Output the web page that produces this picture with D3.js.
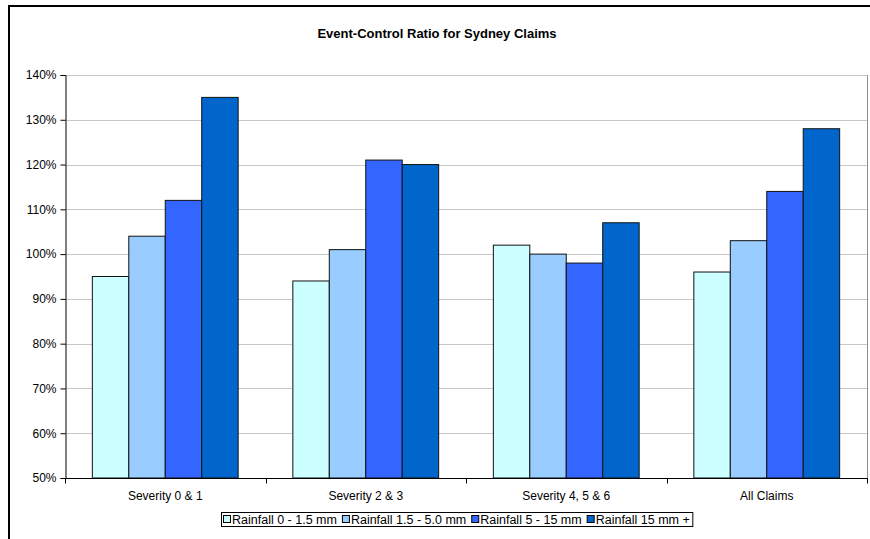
<!DOCTYPE html>
<html>
<head>
<meta charset="utf-8">
<script src="https://cdn.jsdelivr.net/npm/d3@7/dist/d3.min.js"></script>
<style>
  html, body { margin: 0; padding: 0; background: #fff; overflow: hidden; }
  svg { display: block; font-family: Arial, "Liberation Sans", sans-serif; }
</style>
</head>
<body>
<svg id="chart" width="870" height="539"></svg>
<script>
// Chart data
const categories = ["Severity 0 & 1", "Severity 2 & 3", "Severity 4, 5 & 6", "All Claims"];
const seriesNames = ["Rainfall 0 - 1.5 mm", "Rainfall 1.5 - 5.0 mm", "Rainfall 5 - 15 mm", "Rainfall 15 mm +"];
const rain0to15 = [95, 94, 102, 96];
const rain15to50 = [104, 101, 100, 103];
const rain5to15 = [112, 121, 98, 114];
const rain15plus = [135, 120, 107, 128];
const yTicks = [50, 60, 70, 80, 90, 100, 110, 120, 130, 140];
const seriesColors = ["#CCFFFF", "#99CCFF", "#3366FF", "#0066CC"];

const seriesValues = [rain0to15, rain15to50, rain5to15, rain15plus];
const FONT = "Arial, 'Liberation Sans', sans-serif";

const svg = d3.select("#chart");

// Outer chart frame (top and left edges)
svg.append("path")
  .attr("d", "M9,539V6H870")
  .attr("fill", "none").attr("stroke", "#000").attr("stroke-width", 2);

const plot = { left: 65, top: 75, right: 867, bottom: 478 };

const x0 = d3.scaleBand()
  .domain(categories)
  .range([plot.left, plot.right])
  .paddingInner(0).paddingOuter(0);

// Excel-style gap width of 150%
const groupWidthFrac = 4 / (4 + 1.5);
const x1 = d3.scaleBand()
  .domain(d3.range(seriesNames.length))
  .range([0, x0.bandwidth() * groupWidthFrac]);
const groupOffset = (x0.bandwidth() * (1 - groupWidthFrac)) / 2;

const y = d3.scaleLinear().domain([50, 140]).range([plot.bottom, plot.top]);

// Gridlines
svg.append("g")
  .selectAll("line")
  .data(yTicks.filter(t => t > 50))
  .join("line")
  .attr("x1", plot.left).attr("x2", plot.right)
  .attr("y1", d => Math.round(y(d)) + 0.5).attr("y2", d => Math.round(y(d)) + 0.5)
  .attr("stroke", "#c8c8c8").attr("stroke-width", 1);

// Plot area right border
svg.append("line")
  .attr("x1", plot.right + 0.5).attr("x2", plot.right + 0.5)
  .attr("y1", plot.top).attr("y2", plot.bottom)
  .attr("stroke", "#909090");

// Bars
const groups = svg.append("g")
  .selectAll("g")
  .data(categories)
  .join("g")
  .attr("transform", d => `translate(${x0(d) + groupOffset},0)`);

groups.selectAll("rect")
  .data((c, ci) => seriesValues.map((vals, si) => ({ si, v: vals[ci] })))
  .join("rect")
  .attr("x", d => x1(d.si))
  .attr("width", x1.bandwidth())
  .attr("y", d => y(d.v))
  .attr("height", d => y(50) - y(d.v))
  .attr("fill", d => seriesColors[d.si])
  .attr("stroke", "#111")
  .attr("stroke-width", 1);

// Y axis
const yAxis = d3.axisLeft(y)
  .tickValues(yTicks)
  .tickFormat(d => d + "%")
  .tickSize(5)
  .tickPadding(4);
const yg = svg.append("g")
  .attr("transform", `translate(${plot.left + 0.5},0)`)
  .call(yAxis);
yg.select(".domain").attr("stroke", "#000");
yg.selectAll(".tick line").attr("stroke", "#000");
yg.selectAll("text").attr("font-size", 12).attr("fill", "#000").attr("font-family", FONT);

// X axis with ticks at category boundaries
const xg = svg.append("g")
  .attr("transform", `translate(0,${plot.bottom + 0.5})`)
  .call(d3.axisBottom(x0).tickSize(0).tickPadding(13));
xg.select(".domain").attr("stroke", "#000").attr("d", `M${plot.left},0H${plot.right + 1}`);
xg.selectAll("text").attr("font-size", 12).attr("fill", "#000").attr("font-family", FONT);
xg.selectAll("line.boundary")
  .data(categories.map(c => x0(c)).concat([plot.right]))
  .join("line")
  .attr("class", "boundary")
  .attr("x1", d => Math.round(d) + 0.5).attr("x2", d => Math.round(d) + 0.5)
  .attr("y1", 0).attr("y2", 5)
  .attr("stroke", "#000");

// Title
svg.append("text")
  .attr("x", 437).attr("y", 38)
  .attr("text-anchor", "middle")
  .attr("font-size", 13).attr("font-weight", "bold")
  .attr("font-family", FONT)
  .text("Event-Control Ratio for Sydney Claims");

// Legend
const legend = svg.append("g");
const legendBox = legend.append("rect")
  .attr("x", 221.5).attr("y", 512.5)
  .attr("height", 14)
  .attr("fill", "#fff").attr("stroke", "#000");
let lx = 223;
let lastEnd = lx;
seriesNames.forEach((name, i) => {
  legend.append("rect")
    .attr("x", lx + 0.5).attr("y", 515.5)
    .attr("width", 7).attr("height", 7)
    .attr("fill", seriesColors[i]).attr("stroke", "#000");
  const t = legend.append("text")
    .attr("x", lx + 9).attr("y", 524)
    .attr("font-size", 12.5)
    .attr("font-family", FONT)
    .text(name);
  lastEnd = lx + 9 + t.node().getComputedTextLength();
  lx = lastEnd + 5;
});
legendBox.attr("width", lastEnd + 3 - 221.5);
</script>
</body>
</html>
